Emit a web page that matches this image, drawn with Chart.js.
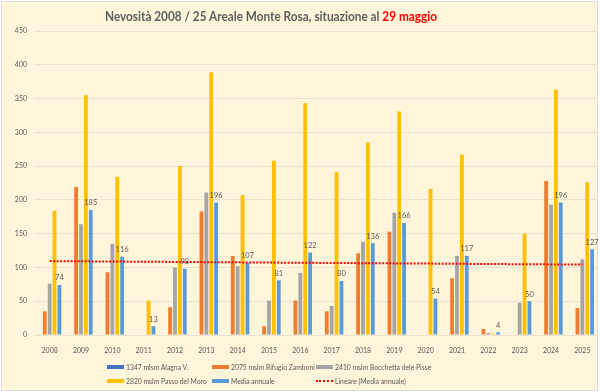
<!DOCTYPE html>
<html><head><meta charset="utf-8">
<script src="https://cdn.jsdelivr.net/npm/chart.js@4/dist/chart.umd.min.js"></script>
<style>
html,body{margin:0;padding:0;background:#fff;width:600px;height:392px;overflow:hidden;}
#frame{position:absolute;left:1px;top:1px;width:595px;height:388px;background:#FFF5DA;border:1px solid #DCDCDC;}
#c{position:absolute;left:0;top:0;}
#title{position:absolute;top:8px;left:105px;white-space:nowrap;font:bold 13px Lato,"Liberation Sans",sans-serif;color:#5E5E5E;transform-origin:0 0;}
#title .hl{color:#FF0000;}
#legend{position:absolute;left:0;top:0;width:600px;height:392px;pointer-events:none;font:6.8px Lato,"Liberation Sans",sans-serif;color:#595959;}
.item{position:absolute;height:10px;display:flex;align-items:center;white-space:nowrap;}
.sw{width:17px;height:4px;margin-right:2px;flex:none;}
.dot{width:17px;height:0;border-top:2px dotted #FF0000;margin-right:2px;flex:none;}
</style></head>
<body>
<div id="frame"></div>
<canvas id="c" width="600" height="392"></canvas>
<div id="title">Nevosità 2008 / 25 Areale Monte Rosa, situazione al <span class="hl">29 maggio</span></div>
<div id="legend"></div>
<script>
const years = ['2008','2009','2010','2011','2012','2013','2014','2015','2016','2017','2018','2019','2020','2021','2022','2023','2024','2025'];
const alagna    = [0,0,0,0,0,0,0,0,0,0,0,0,0,0,0,0,0,0];
const zamboni   = [35,219,93,0,41,183,117,13,51,35,121,153,0,84,9,0,228,40];
const bocchetta = [76,164,135,0,100,211,102,51,92,43,138,181,0,117,3,48,193,112];
const moro      = [184,355,234,51,250,389,207,258,343,241,285,331,216,267,2,150,363,226];
const media     = [74,185,116,13,98,196,107,81,122,80,136,166,54,117,4,50,196,127];
const seriesNames = ['1347 mlsm Alagna V.','2075 mslm Rifugio Zamboni','2410 mslm Bocchetta dele Pisse','2820 mslm Passo del Moro','Media annuale','Lineare (Media annuale)'];
const seriesColors = ['#4472C4','#ED7D31','#A5A5A5','#FFC000','#5B9BD5','#FF0000'];
const yTicks = [0,50,100,150,200,250,300,350,400,450];

// least-squares linear trend of the annual mean (Excel "Lineare")
const n = media.length;
const mx = (n-1)/2, my = media.reduce((a,b)=>a+b,0)/n;
let sxy=0, sxx=0;
media.forEach((v,i)=>{sxy+=(i-mx)*(v-my); sxx+=(i-mx)*(i-mx);});
const slope = sxy/sxx, icpt = my - slope*mx;
const trend = media.map((_,i)=>icpt+slope*i);

const GRID = '#EAE2D0';
const TXT = '#595959';
const tickFont = {family:'Lato', size:7};

const labelPlugin = {
  id:'mediaLabels',
  afterDatasetsDraw(chart){
    const ctx = chart.ctx;
    const meta = chart.getDatasetMeta(4);
    ctx.save();
    ctx.font = '7.5px Lato';
    ctx.fillStyle = TXT;
    ctx.textAlign = 'center';
    ctx.textBaseline = 'middle';
    meta.data.forEach((bar,i)=>{ ctx.fillText(String(media[i]), bar.x, bar.y - 7); });
    ctx.restore();
  }
};

const barDs = (label, data, color) => ({type:'bar', label, data, backgroundColor:color, borderWidth:0, categoryPercentage:0.78, barPercentage:0.78, order:1});

new Chart(document.getElementById('c'), {
  data:{
    labels: years,
    datasets:[
      barDs(seriesNames[0], alagna, seriesColors[0]),
      barDs(seriesNames[1], zamboni, seriesColors[1]),
      barDs(seriesNames[2], bocchetta, seriesColors[2]),
      barDs(seriesNames[3], moro, seriesColors[3]),
      barDs(seriesNames[4], media, seriesColors[4]),
      {type:'line', label:seriesNames[5], data:trend, borderColor:seriesColors[5], borderWidth:2, borderDash:[2,1.5], pointRadius:0, fill:false, order:0}
    ]
  },
  options:{
    responsive:false, animation:false, devicePixelRatio:1,
    layout:{padding:{left:0, top:31, right:2, bottom:37}},
    plugins:{legend:{display:false}, tooltip:{enabled:false}, title:{display:false}},
    scales:{
      x:{
        grid:{display:false}, border:{display:false},
        ticks:{font:tickFont, color:TXT, padding:4, maxRotation:0, autoSkip:false},
        afterFit(s){ s.height = 20; }
      },
      y:{
        min:0, max:450,
        afterBuildTicks(s){ s.ticks = yTicks.map(v=>({value:v})); },
        grid:{color:GRID, lineWidth:1, drawTicks:false},
        border:{display:false},
        ticks:{font:tickFont, color:TXT, padding:7},
        afterFit(s){ s.width = 34; }
      }
    }
  },
  plugins:[labelPlugin]
});

// legend (Excel-style grid of 3 columns x 2 rows)
const legend = document.getElementById('legend');
const colX = [107, 212, 316];
const rowY = [362, 376];
seriesNames.forEach((name,i)=>{
  const d = document.createElement('div');
  d.className = 'item';
  d.style.left = colX[i%3] + 'px';
  d.style.top = rowY[Math.floor(i/3)] + 'px';
  const sw = document.createElement('span');
  if (i===5) { sw.className='dot'; } else { sw.className='sw'; sw.style.background = seriesColors[i]; }
  const t = document.createElement('span');
  t.textContent = name;
  d.appendChild(sw); d.appendChild(t);
  legend.appendChild(d);
});

// fit title width to reference (~332px)
const title = document.getElementById('title');
const w = title.getBoundingClientRect().width;
title.style.transform = 'scaleX(' + (332/w) + ')';
</script>
</body></html>
